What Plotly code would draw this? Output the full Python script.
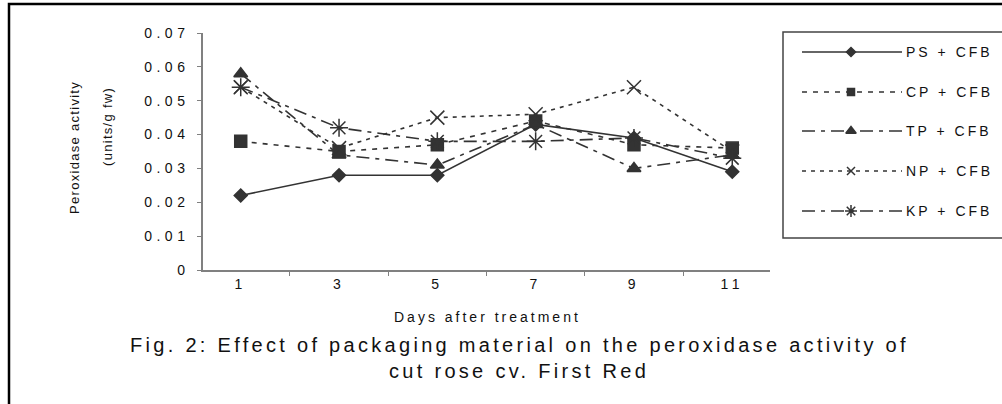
import plotly.graph_objects as go

days = ["1", "3", "5", "7", "9", "11"]
ps_cfb = [0.022, 0.028, 0.028, 0.043, 0.039, 0.029]
cp_cfb = [0.038, 0.035, 0.037, 0.044, 0.037, 0.036]
tp_cfb = [0.058, 0.034, 0.031, 0.043, 0.030, 0.034]
np_cfb = [0.054, 0.036, 0.045, 0.046, 0.054, 0.035]
kp_cfb = [0.054, 0.042, 0.038, 0.038, 0.039, 0.033]
series_names = ["PS + CFB", "CP + CFB", "TP + CFB", "NP + CFB", "KP + CFB"]
y_ticks = [0, 0.01, 0.02, 0.03, 0.04, 0.05, 0.06, 0.07]

W, H = 1002, 404
L, T = 203, 33
B = H - 270
PW = W - L
PH = H - T - B


def px(x):  # image pixel x -> paper
    return (x - L) / PW


def py(y):  # image pixel y -> paper
    return (H - B - y) / PH


def sp(text, s):
    return f'<span style="letter-spacing:{s}px">{text}</span>'


ink = "#333333"
txt = "#111111"
font = "Liberation Sans"
styles = [
    dict(dash="solid", symbol="diamond", size=10, lsize=7),
    dict(dash="5px,6px", symbol="square", size=12, lsize=7),
    dict(dash="13px,6px,4px,6px", symbol="triangle-up", size=12, lsize=9),
    dict(dash="4px,5px", symbol="x-thin-open", size=14, lsize=8),
    dict(dash="13px,6px,4px,6px", symbol="asterisk-open", size=15, lsize=10),
]
data = [ps_cfb, cp_cfb, tp_cfb, np_cfb, kp_cfb]

fig = go.Figure()
for name, vals, st in zip(series_names, data, styles):
    fig.add_trace(go.Scatter(
        x=days, y=vals, name=name, mode="lines+markers",
        line=dict(color=ink, width=1.6, dash=st["dash"]),
        marker=dict(symbol=st["symbol"], size=st["size"], color=ink,
                    line=dict(color=ink, width=1.5)),
        showlegend=False, xaxis="x", yaxis="y"))

# custom legend drawn on a helper axis measured in image pixels
leg_y = [52, 92, 131, 171, 211]
for name, st, ly in zip(series_names, styles, leg_y):
    fig.add_trace(go.Scatter(
        x=[802, 902], y=[ly, ly], mode="lines",
        line=dict(color=ink, width=1.6, dash=st["dash"]),
        showlegend=False, xaxis="x2", yaxis="y2", hoverinfo="skip"))
    fig.add_trace(go.Scatter(
        x=[851], y=[ly], mode="markers",
        marker=dict(symbol=st["symbol"], size=st["lsize"], color=ink,
                    line=dict(color=ink, width=1.5)),
        showlegend=False, xaxis="x2", yaxis="y2", hoverinfo="skip"))
    fig.add_annotation(x=904, y=ly, xref="x2", yref="y2", text=sp(name, 3),
                       showarrow=False, xanchor="left", yanchor="middle",
                       font=dict(family=font, size=14, color=txt))

fig.update_layout(
    width=W, height=H,
    margin=dict(l=L, r=0, t=T, b=B),
    plot_bgcolor="white", paper_bgcolor="white",
    showlegend=False,
    xaxis=dict(type="category", domain=[0, px(770)], showline=True,
               tickvals=days, ticktext=[sp(d, 4.5) for d in days],
               linecolor="#808080", linewidth=1.5, ticks="outside",
               tickson="boundaries", ticklen=4, tickcolor="#808080",
               showgrid=False, zeroline=False,
               tickfont=dict(family=font, size=14, color=txt)),
    yaxis=dict(range=[0, 0.07], tickvals=y_ticks,
               ticktext=[sp("0" if v == 0 else f"{v:.2f}", 4.5) for v in y_ticks],
               showline=True, linecolor="#808080", linewidth=1.5,
               ticks="outside", ticklen=4, tickcolor="#808080",
               ticklabelstandoff=5,
               showgrid=False, zeroline=False,
               tickfont=dict(family=font, size=14, color=txt)),
    xaxis2=dict(domain=[px(783), 1], range=[783, W], visible=False,
                fixedrange=True),
    yaxis2=dict(domain=[0, 1], range=[270, 33], visible=False,
                anchor="x2", fixedrange=True),
)

# legend box
fig.add_shape(type="rect", xref="paper", yref="paper",
              x0=px(783), x1=px(1040), y0=py(238), y1=py(32),
              line=dict(color="#444", width=1.5))
# outer frame
fig.add_shape(type="rect", xref="paper", yref="paper",
              x0=px(9), x1=px(1060), y0=py(460), y1=py(4),
              line=dict(color="black", width=2.5))

# y-axis title (two rotated lines)
yfont = dict(family=font, size=13, color=txt)
fig.add_annotation(x=px(74), y=py(148), xref="paper", yref="paper",
                   text=sp("Peroxidase activity", 1.3), textangle=-90,
                   showarrow=False, xanchor="center", yanchor="middle", font=yfont)
fig.add_annotation(x=px(107), y=py(127), xref="paper", yref="paper",
                   text=sp("(units/g fw)", 1.3), textangle=-90,
                   showarrow=False, xanchor="center", yanchor="middle", font=yfont)

# x-axis title
fig.add_annotation(x=px(487), y=py(317), xref="paper", yref="paper",
                   text=sp("Days after treatment", 3), showarrow=False,
                   xanchor="center", yanchor="middle",
                   font=dict(family=font, size=14, color=txt))

# figure caption
fig.add_annotation(x=px(519), y=py(345), xref="paper", yref="paper",
                   text=sp("Fig. 2: Effect of packaging material on the peroxidase activity of", 3.3),
                   showarrow=False, xanchor="center", yanchor="middle",
                   font=dict(family=font, size=20, color=txt))
fig.add_annotation(x=px(519), y=py(371), xref="paper", yref="paper",
                   text=sp("cut rose cv. First Red", 3.3),
                   showarrow=False, xanchor="center", yanchor="middle",
                   font=dict(family=font, size=20, color=txt))

fig.write_html("out.html", config={"displayModeBar": False},
               post_script="document.body.style.margin='0';")
